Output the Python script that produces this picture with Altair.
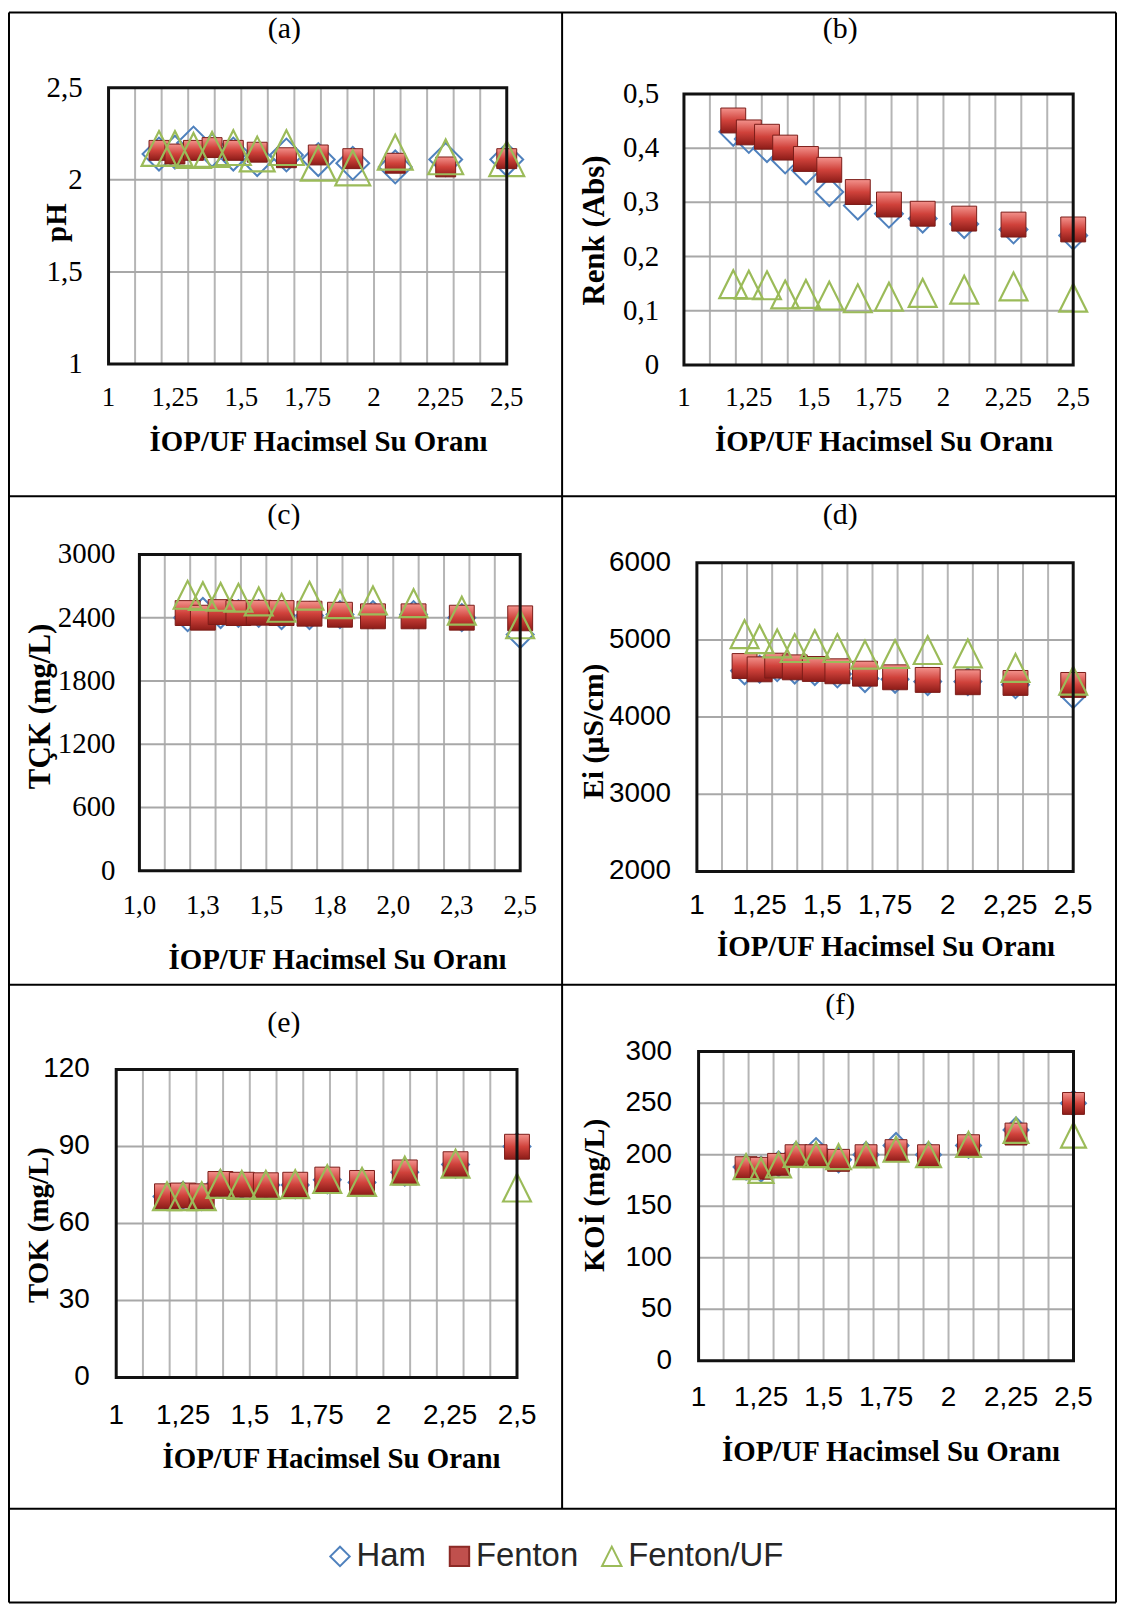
import altair as alt
import pandas as pd

# ---------------- data ----------------
X = [1.19, 1.25, 1.32, 1.39, 1.47, 1.56, 1.67, 1.79, 1.92, 2.08, 2.27, 2.5]
SERIES = ["Ham", "Fenton", "Fenton/UF"]

ph_ham = [2.14, 2.15, 2.20, 2.16, 2.14, 2.11, 2.135, 2.11, 2.09, 2.07, 2.11, 2.11]
ph_fenton = [2.16, 2.14, 2.16, 2.175, 2.16, 2.15, 2.12, 2.135, 2.115, 2.09, 2.07, 2.115]
ph_uf = [2.17, 2.17, 2.16, 2.165, 2.175, 2.14, 2.175, 2.09, 2.065, 2.15, 2.125, 2.115]

renk_ham = [0.43, 0.417, 0.40, 0.379, 0.359, 0.319, 0.294, 0.279, 0.27, 0.26, 0.25, 0.239]
renk_fenton = [0.451, 0.429, 0.421, 0.401, 0.380, 0.360, 0.319, 0.296, 0.279, 0.270, 0.259, 0.250]
renk_uf = [0.149, 0.148, 0.147, 0.130, 0.131, 0.128, 0.123, 0.126, 0.133, 0.139, 0.145, 0.124]

tck_ham = [2400, 2460, 2430, 2440, 2440, 2420, 2420, 2430, 2430, 2430, 2400, 2240]
tck_fenton = [2444, 2400, 2453, 2444, 2447, 2444, 2438, 2428, 2413, 2413, 2400, 2394]
tck_uf = [2617, 2605, 2598, 2589, 2554, 2494, 2608, 2529, 2564, 2538, 2466, 2337]

ei_ham = [4600, 4620, 4640, 4610, 4590, 4560, 4500, 4490, 4460, 4460, 4420, 4290]
ei_fenton = [4662, 4619, 4667, 4645, 4624, 4594, 4563, 4516, 4482, 4452, 4443, 4417]
ei_uf = [5075, 5011, 4955, 4895, 4946, 4895, 4809, 4817, 4869, 4826, 4637, 4473]

tok_ham = [70.5, 71.0, 70.5, 75.5, 75.0, 75.0, 75.0, 77.0, 76.0, 80.0, 83.0, 90.0]
tok_fenton = [70.6, 70.9, 70.6, 75.4, 75.1, 74.9, 75.1, 77.1, 75.8, 79.9, 83.1, 89.9]
tok_uf = [70.6, 70.6, 70.6, 75.4, 75.0, 75.0, 75.3, 77.3, 76.2, 80.6, 83.3, 74.0]

koi_ham = [188, 186, 191, 200, 204, 195, 200, 209, 200, 209, 224, 250]
koi_fenton = [187.4, 186.8, 190.6, 199, 199, 194.5, 199, 203.9, 199, 208.7, 220, 249.7]
koi_uf = [188.4, 184.8, 190, 200.3, 200, 198, 199.7, 205.2, 200, 210, 223.5, 219]

# ticks and tick labels
X_TICKS = [1, 1.25, 1.5, 1.75, 2, 2.25, 2.5]
X_LABELS = ["1", "1,25", "1,5", "1,75", "2", "2,25", "2,5"]
X_LABELS_ONE = ["1,0", "1,3", "1,5", "1,8", "2,0", "2,3", "2,5"]
X_GRID = [1.1, 1.2, 1.3, 1.4, 1.5, 1.6, 1.7, 1.8, 1.9, 2.0, 2.1, 2.2, 2.3, 2.4]
X_TITLE = "İOP/UF Hacimsel Su Oranı"

ph_ticks = [1, 1.5, 2, 2.5]
ph_labels = ["1", "1,5", "2", "2,5"]
renk_ticks = [0, 0.1, 0.2, 0.3, 0.4, 0.5]
renk_labels = ["0", "0,1", "0,2", "0,3", "0,4", "0,5"]
tck_ticks = [0, 600, 1200, 1800, 2400, 3000]
tck_labels = ["0", "600", "1200", "1800", "2400", "3000"]
ei_ticks = [2000, 3000, 4000, 5000, 6000]
ei_labels = ["2000", "3000", "4000", "5000", "6000"]
tok_ticks = [0, 30, 60, 90, 120]
tok_labels = ["0", "30", "60", "90", "120"]
koi_ticks = [0, 50, 100, 150, 200, 250, 300]
koi_labels = ["0", "50", "100", "150", "200", "250", "300"]

# ---------------- layout / style ----------------
W, H = 1114, 1600
OX, OY = 8, 8  # page offset of chart origin
SERIF = "Liberation Serif"
SANS = "Liberation Sans"
C_HAM = "#4f81bd"
C_FEN = "#c0504d"
C_UF = "#9bbb59"
TRI = "M0,-1L1,1L-1,1Z"
GRAD = alt.LinearGradient(
    gradient="linear",
    stops=[alt.GradientStop(color="#f3928c", offset=0),
           alt.GradientStop(color="#d0423b", offset=0.5),
           alt.GradientStop(color="#8c1c18", offset=1)],
    x1=0, x2=0, y1=0, y2=1)

panels = [
    dict(label="(a)", ytitle="pH", ydom=[1, 2.5], yticks=ph_ticks, ylabels=ph_labels,
         data=(ph_ham, ph_fenton, ph_uf), xlabels=X_LABELS, font=SERIF, yfs=29, xfs=27, ytfs=29,
         box=(109, 509, 84.5, 362), tpos=(285.5, 26), xt=(320, 440), yt=(57, 220),
         xlab=396, ylab=83, sizes=(33, 20, 35)),
    dict(label="(b)", ytitle="Renk (Abs)", ydom=[0, 0.5], yticks=renk_ticks, ylabels=renk_labels,
         data=(renk_ham, renk_fenton, renk_uf), xlabels=X_LABELS, font=SERIF, yfs=29, xfs=27, ytfs=31,
         box=(687, 1078, 90.7, 363), tpos=(844, 26), xt=(888, 440), yt=(598, 228),
         xlab=396, ylab=662, sizes=(28, 25, 28)),
    dict(label="(c)", ytitle="TÇK (mg/L)", ydom=[0, 3000], yticks=tck_ticks, ylabels=tck_labels,
         data=(tck_ham, tck_fenton, tck_uf), xlabels=X_LABELS_ONE, font=SERIF, yfs=29, xfs=27, ytfs=31,
         box=(140, 522.5, 553.3, 871), tpos=(285, 514), xt=(339, 961), yt=(41, 706),
         xlab=906, ylab=116, sizes=(27, 25, 28)),
    dict(label="(d)", ytitle="Ei (µS/cm)", ydom=[2000, 6000], yticks=ei_ticks, ylabels=ei_labels,
         data=(ei_ham, ei_fenton, ei_uf), xlabels=X_LABELS, font=SANS, yfs=28, xfs=28, ytfs=30,
         box=(700, 1078, 561.7, 871.7), tpos=(844, 514), xt=(890, 948), yt=(597, 731),
         xlab=906, ylab=674, sizes=(27, 25, 28)),
    dict(label="(e)", ytitle="TOK (mg/L)", ydom=[0, 120], yticks=tok_ticks, ylabels=tok_labels,
         data=(tok_ham, tok_fenton, tok_uf), xlabels=X_LABELS, font=SANS, yfs=28, xfs=28, ytfs=29,
         box=(116.7, 519.3, 1070.7, 1380), tpos=(285, 1024), xt=(333, 1462), yt=(39, 1227),
         xlab=1419, ylab=90, sizes=(27, 25, 28)),
    dict(label="(f)", ytitle="KOİ (mg/L)", ydom=[0, 300], yticks=koi_ticks, ylabels=koi_labels,
         data=(koi_ham, koi_fenton, koi_uf), xlabels=X_LABELS, font=SANS, yfs=28, xfs=28, ytfs=30,
         box=(701.7, 1078.3, 1052.7, 1363.3), tpos=(844, 1006), xt=(895, 1455), yt=(598, 1197),
         xlab=1401, ylab=675, sizes=(25, 22, 25)),
]

LEGEND = alt.Legend(
    orient="none", legendX=317, legendY=1535, direction="horizontal", title=None,
    labelFont=SANS, labelFontSize=33, labelColor="#262626", symbolSize=380,
    symbolStrokeWidth=2, symbolOpacity=1, labelOffset=0, columnPadding=17, padding=0,
    labelBaseline="middle")

one = pd.DataFrame({"d": [0]})


def make_panel(p):
    L, R, T, B = p["box"]
    xs = alt.Scale(domain=[1, 2.5], range=[L - OX, R - OX], nice=False, zero=False)
    ys = alt.Scale(domain=p["ydom"], range=[B - OY, T - OY], nice=False, zero=False)

    ham, fen, uf = p["data"]
    df = pd.DataFrame({
        "x": X * 3,
        "y": list(ham) + list(fen) + list(uf),
        "series": ["Ham"] * 12 + ["Fenton"] * 12 + ["Fenton/UF"] * 12,
    })
    y0, y1 = p["ydom"]
    vgrid = pd.DataFrame({"gx": X_GRID, "gy1": [y0] * len(X_GRID), "gy2": [y1] * len(X_GRID)})
    hvals = p["yticks"][1:-1]
    hgrid = pd.DataFrame({"hy": hvals, "hx1": [1.0] * len(hvals), "hx2": [2.5] * len(hvals)})
    frame = pd.DataFrame({"fx1": [1.0], "fx2": [2.5], "fy1": [y0], "fy2": [y1]})
    xtick_df = pd.DataFrame({"tv": X_TICKS, "lab": p["xlabels"]})
    ytick_df = pd.DataFrame({"tv": p["yticks"], "lab": p["ylabels"]})

    vg = alt.Chart(vgrid).mark_rule(color="#b5b5b5", strokeWidth=2).encode(
        x=alt.X("gx:Q", scale=xs, axis=None), y=alt.Y("gy1:Q", scale=ys, axis=None), y2="gy2:Q")
    hg = alt.Chart(hgrid).mark_rule(color="#a8a8a8", strokeWidth=2).encode(
        y=alt.Y("hy:Q", scale=ys, axis=None), x=alt.X("hx1:Q", scale=xs, axis=None), x2="hx2:Q")
    fr = alt.Chart(frame).mark_rect(fill="transparent", stroke="#111111", strokeWidth=3).encode(
        x=alt.X("fx1:Q", scale=xs, axis=None), x2="fx2:Q",
        y=alt.Y("fy1:Q", scale=ys, axis=None), y2="fy2:Q")

    # tick labels, placed through the panel's own scales
    xl = alt.Chart(xtick_df).mark_text(font=p["font"], fontSize=p["xfs"], color="black",
                                       align="center", baseline="middle").encode(
        x=alt.X("tv:Q", scale=xs, axis=None), y=alt.value(p["xlab"] - OY), text="lab:N")
    yl = alt.Chart(ytick_df).mark_text(font=p["font"], fontSize=p["yfs"], color="black",
                                       align="right", baseline="middle").encode(
        y=alt.Y("tv:Q", scale=ys, axis=None), x=alt.value(p["ylab"] - OX), text="lab:N")

    dia, sq, tri = p["sizes"]
    base = alt.Chart(df)
    hm = base.transform_filter(alt.datum.series == "Ham").mark_point(
        size=dia * dia, strokeWidth=2, opacity=1, filled=False).encode(
        x=alt.X("x:Q", scale=xs, axis=None),
        y=alt.Y("y:Q", scale=ys, axis=None),
        shape=alt.Shape("series:N", scale=alt.Scale(domain=SERIES, range=["diamond", "square", TRI]), legend=LEGEND),
        stroke=alt.Stroke("series:N", scale=alt.Scale(domain=SERIES, range=[C_HAM, "#8c2a26", C_UF]), legend=LEGEND),
        fill=alt.Fill("series:N", scale=alt.Scale(domain=SERIES, range=["transparent", C_FEN, "transparent"]), legend=LEGEND),
    )
    fn = base.transform_filter(alt.datum.series == "Fenton").mark_point(
        shape="square", size=sq * sq, fill=GRAD, stroke="#7b1c18", strokeWidth=1,
        opacity=1, filled=True).encode(
        x=alt.X("x:Q", scale=xs, axis=None), y=alt.Y("y:Q", scale=ys, axis=None))
    ufm = base.transform_filter(alt.datum.series == "Fenton/UF").mark_point(
        shape=TRI, size=tri * tri, stroke=C_UF, strokeWidth=2.2, fill="transparent",
        opacity=1, filled=False).encode(
        x=alt.X("x:Q", scale=xs, axis=None), y=alt.Y("y:Q", scale=ys, axis=None))

    title = alt.Chart(one).mark_text(font=SERIF, fontSize=30, color="black",
                                     align="center", baseline="middle").encode(
        x=alt.value(p["tpos"][0] - OX), y=alt.value(p["tpos"][1] - OY), text=alt.value(p["label"]))
    xtitle = alt.Chart(one).mark_text(font=SERIF, fontSize=29, fontWeight="bold", color="black",
                                      align="center", baseline="middle").encode(
        x=alt.value(p["xt"][0] - OX), y=alt.value(p["xt"][1] - OY), text=alt.value(X_TITLE))
    ytitle = alt.Chart(one).mark_text(font=SERIF, fontSize=p["ytfs"], fontWeight="bold", color="black",
                                      align="center", baseline="middle", angle=270).encode(
        x=alt.value(p["yt"][0] - OX), y=alt.value(p["yt"][1] - OY), text=alt.value(p["ytitle"]))
    return alt.layer(vg, hg, hm, fn, ufm, fr, xl, yl, title, xtitle, ytitle)


# table lines (page coordinates -> chart coordinates)
TABLE_LEFT, TABLE_RIGHT, TABLE_TOP, TABLE_BOTTOM = 9, 1121, 9, 1606
COL_X = 564.6
ROWS_Y = [494.8, 985.5, 1512]


def hline(x1, x2, y):
    return alt.Chart(one).mark_rule(color="black", strokeWidth=2).encode(
        x=alt.value(x1 - OX), x2=alt.value(x2 - OX), y=alt.value(y - OY))


def vline(x, y1, y2):
    return alt.Chart(one).mark_rule(color="black", strokeWidth=2).encode(
        x=alt.value(x - OX), y=alt.value(y1 - OY), y2=alt.value(y2 - OY))


lines = [hline(TABLE_LEFT, TABLE_RIGHT, TABLE_TOP), hline(TABLE_LEFT, TABLE_RIGHT, TABLE_BOTTOM),
         vline(TABLE_LEFT, TABLE_TOP, TABLE_BOTTOM), vline(TABLE_RIGHT, TABLE_TOP, TABLE_BOTTOM),
         vline(COL_X, TABLE_TOP, ROWS_Y[-1])]
lines += [hline(TABLE_LEFT, TABLE_RIGHT, y) for y in ROWS_Y]

chart = alt.layer(*[make_panel(p) for p in panels], *lines).resolve_scale(
    x="independent", y="independent").properties(
    width=W, height=H, padding=0, background="white").configure_view(stroke=None)

chart.save("out.html", embed_options={"renderer": "svg", "actions": False})
